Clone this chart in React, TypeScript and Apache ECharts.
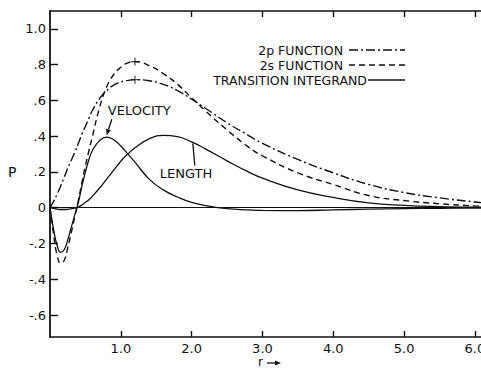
import React, { useEffect, useRef } from "react";
import * as echarts from "echarts";

const rValues = [0, 0.05, 0.1, 0.15, 0.2, 0.25, 0.3, 0.35, 0.4, 0.45, 0.5, 0.55, 0.6, 0.7, 0.8, 0.9, 1.0, 1.1, 1.2, 1.4, 1.6, 1.8, 2.0, 2.2, 2.5, 2.8, 3.0, 3.5, 4.0, 4.5, 5.0, 5.5, 6.0, 6.1];
const p2Values = [0, 0.035, 0.075, 0.12, 0.17, 0.22, 0.265, 0.31, 0.36, 0.41, 0.455, 0.5, 0.545, 0.61, 0.655, 0.686, 0.703, 0.712, 0.716, 0.71, 0.69, 0.655, 0.607, 0.555, 0.475, 0.405, 0.36, 0.27, 0.195, 0.13, 0.085, 0.055, 0.032, 0.028];
const s2Values = [0, -0.15, -0.265, -0.31, -0.295, -0.225, -0.14, -0.05, 0.04, 0.14, 0.235, 0.32, 0.4, 0.56, 0.675, 0.745, 0.785, 0.81, 0.817, 0.795, 0.75, 0.69, 0.615, 0.54, 0.435, 0.34, 0.29, 0.195, 0.13, 0.068, 0.04, 0.022, 0.01, 0.008];
const velocityValues = [0, -0.12, -0.21, -0.25, -0.235, -0.18, -0.11, -0.04, 0.03, 0.12, 0.2, 0.27, 0.32, 0.375, 0.395, 0.38, 0.345, 0.3, 0.255, 0.16, 0.1, 0.06, 0.03, 0.012, -0.005, -0.012, -0.015, -0.016, -0.012, -0.008, -0.005, -0.003, -0.002, -0.002];
const lengthValues = [0, -0.004, -0.008, -0.01, -0.01, -0.009, -0.006, -0.002, 0.004, 0.015, 0.03, 0.045, 0.065, 0.11, 0.16, 0.21, 0.26, 0.3, 0.335, 0.385, 0.405, 0.397, 0.368, 0.328, 0.262, 0.2, 0.165, 0.1, 0.058, 0.027, 0.013, 0.006, 0.003, 0.003];

const yTickValues = [-0.6, -0.4, -0.2, 0, 0.2, 0.4, 0.6, 0.8, 1.0];
const yTickLabels = ["-.6", "-.4", "-.2", "0", ".2", ".4", ".6", ".8", "1.0"];
const xTickValues = [1, 2, 3, 4, 5, 6];
const xTickLabels = ["1.0", "2.0", "3.0", "4.0", "5.0", "6.0"];
const peakMarks = [[1.2, 0.817], [1.2, 0.716]];

const legendLabels = ["2p FUNCTION", "2s FUNCTION", "TRANSITION INTEGRAND"];

const INK = "#111";
const FONT = "DejaVu Sans";
const DASH_DOT = [9, 3, 2, 3];
const DASHED = [6, 4];

function zip(vals: number[]) {
  return rValues.map((r, i) => [r, vals[i]]);
}

export default function App() {
  const ref = useRef<HTMLDivElement>(null);
  useEffect(() => {
    if (!ref.current) return;
    const chart = echarts.init(ref.current, null, { renderer: "svg" });
    const lineBase = { type: "line", showSymbol: false, smooth: 0.5, silent: true, z: 3 };
    chart.setOption({
      animation: false,
      grid: { left: 50, top: 11, width: 432, height: 326 },
      xAxis: [
        {
          type: "value", min: 0, max: 6.1,
          axisLine: { show: true, onZero: false, lineStyle: { color: INK, width: 1.6 } },
          axisTick: { show: true, inside: true, length: 6, customValues: xTickValues, lineStyle: { color: INK, width: 1.4 } },
          axisLabel: {
            customValues: xTickValues, margin: 5, fontSize: 13, color: INK, fontFamily: FONT,
            formatter: (v: number) => { const i = xTickValues.findIndex((t) => Math.abs(t - v) < 1e-6); return i >= 0 ? xTickLabels[i] : ""; },
          },
          splitLine: { show: false },
        },
        {
          type: "value", min: 0, max: 6.1, position: "top",
          axisLine: { show: true, onZero: false, lineStyle: { color: INK, width: 1.6 } },
          axisTick: { show: true, inside: true, length: 6, customValues: xTickValues, lineStyle: { color: INK, width: 1.4 } },
          axisLabel: { show: false },
          splitLine: { show: false },
        },
      ],
      yAxis: {
        type: "value", min: -0.723, max: 1.1,
        axisLine: { show: true, onZero: false, lineStyle: { color: INK, width: 1.8 } },
        axisTick: { show: true, inside: true, length: 8, customValues: yTickValues, lineStyle: { color: INK, width: 1.4 } },
        axisLabel: {
          customValues: yTickValues, margin: 4, fontSize: 13, color: INK, fontFamily: FONT,
          formatter: (v: number) => { const i = yTickValues.findIndex((t) => Math.abs(t - v) < 1e-6); return i >= 0 ? yTickLabels[i] : ""; },
        },
        splitLine: { show: false },
      },
      series: [
        { ...lineBase, name: "2p FUNCTION", data: zip(p2Values), lineStyle: { color: INK, width: 1.4, type: DASH_DOT } },
        { ...lineBase, name: "2s FUNCTION", data: zip(s2Values), lineStyle: { color: INK, width: 1.4, type: DASHED } },
        { ...lineBase, name: "VELOCITY", data: zip(velocityValues), lineStyle: { color: INK, width: 1.3, type: "solid" } },
        {
          ...lineBase, name: "LENGTH", data: zip(lengthValues), lineStyle: { color: INK, width: 1.3, type: "solid" },
          markLine: {
            silent: true, symbol: ["none", "none"], label: { show: false },
            lineStyle: { color: INK, width: 1, type: "solid" },
            data: [{ yAxis: 0 }],
          },
        },
        {
          type: "scatter", data: peakMarks, silent: true, z: 4,
          symbol: "path://M4.3,0L5.7,0L5.7,10L4.3,10ZM0,4.3L10,4.3L10,5.7L0,5.7Z",
          symbolSize: 8, itemStyle: { color: INK },
        },
      ],
    });

    const px = (r: number, p: number) => chart.convertToPixel({ gridIndex: 0 }, [r, p]) as number[];
    const vText = px(0.816, 0.543);
    const vFrom = px(0.873, 0.495);
    const vTip = px(0.80, 0.405);
    const lText = px(1.55, 0.19);
    const lFrom = px(2.045, 0.235);
    const lTo = px(2.017, 0.36);
    const ang = Math.atan2(vTip[1] - vFrom[1], vTip[0] - vFrom[0]);
    const ah = 6, aw = 2.6;
    const base = [vTip[0] - ah * Math.cos(ang), vTip[1] - ah * Math.sin(ang)];
    const perp = [-Math.sin(ang), Math.cos(ang)];

    const textStyle = { fill: INK, fontSize: 13, fontFamily: FONT };
    const legendY = [50, 65, 80];
    const graphics: any[] = [
      { type: "text", left: 8, top: 165, style: { text: "P", ...textStyle, fontSize: 14 } },
      { type: "text", x: vText[0], y: vText[1], style: { text: "VELOCITY", ...textStyle, textVerticalAlign: "middle" } },
      { type: "line", shape: { x1: vFrom[0], y1: vFrom[1], x2: base[0], y2: base[1] }, style: { stroke: INK, lineWidth: 1.3 } },
      { type: "polygon", shape: { points: [vTip, [base[0] + perp[0] * aw, base[1] + perp[1] * aw], [base[0] - perp[0] * aw, base[1] - perp[1] * aw]] }, style: { fill: INK } },
      { type: "text", x: lText[0], y: lText[1], style: { text: "LENGTH", ...textStyle, textVerticalAlign: "middle" } },
      { type: "line", shape: { x1: lFrom[0], y1: lFrom[1], x2: lTo[0], y2: lTo[1] }, style: { stroke: INK, lineWidth: 1.3 } },
      // x-axis name "r ->"
      { type: "text", x: 258, y: 362, style: { text: "r", ...textStyle, fontSize: 12, textVerticalAlign: "middle" } },
      { type: "line", shape: { x1: 267, y1: 363, x2: 276, y2: 363 }, style: { stroke: INK, lineWidth: 1.3 } },
      { type: "polygon", shape: { points: [[281, 363], [275, 360.5], [275, 365.5]] }, style: { fill: INK } },
      // legend
      { type: "text", x: 343, y: legendY[0], style: { text: legendLabels[0], ...textStyle, fontSize: 12.5, textAlign: "right", textVerticalAlign: "middle" } },
      { type: "line", shape: { x1: 349, y1: legendY[0], x2: 405, y2: legendY[0] }, style: { stroke: INK, lineWidth: 1.3, lineDash: DASH_DOT } },
      { type: "text", x: 343, y: legendY[1], style: { text: legendLabels[1], ...textStyle, fontSize: 12.5, textAlign: "right", textVerticalAlign: "middle" } },
      { type: "line", shape: { x1: 349, y1: legendY[1], x2: 405, y2: legendY[1] }, style: { stroke: INK, lineWidth: 1.3, lineDash: DASHED } },
      { type: "text", x: 367, y: legendY[2], style: { text: legendLabels[2], ...textStyle, fontSize: 12.5, textAlign: "right", textVerticalAlign: "middle" } },
      { type: "line", shape: { x1: 368, y1: legendY[2], x2: 405, y2: legendY[2] }, style: { stroke: INK, lineWidth: 1.3 } },
    ];
    chart.setOption({ graphic: graphics });
    return () => chart.dispose();
  }, []);

  return (
    <div style={{ position: "fixed", left: 0, top: 0, width: 481, height: 370, overflow: "hidden", background: "#fff" }}>
      <div ref={ref} style={{ width: 490, height: 370 }} />
    </div>
  );
}
